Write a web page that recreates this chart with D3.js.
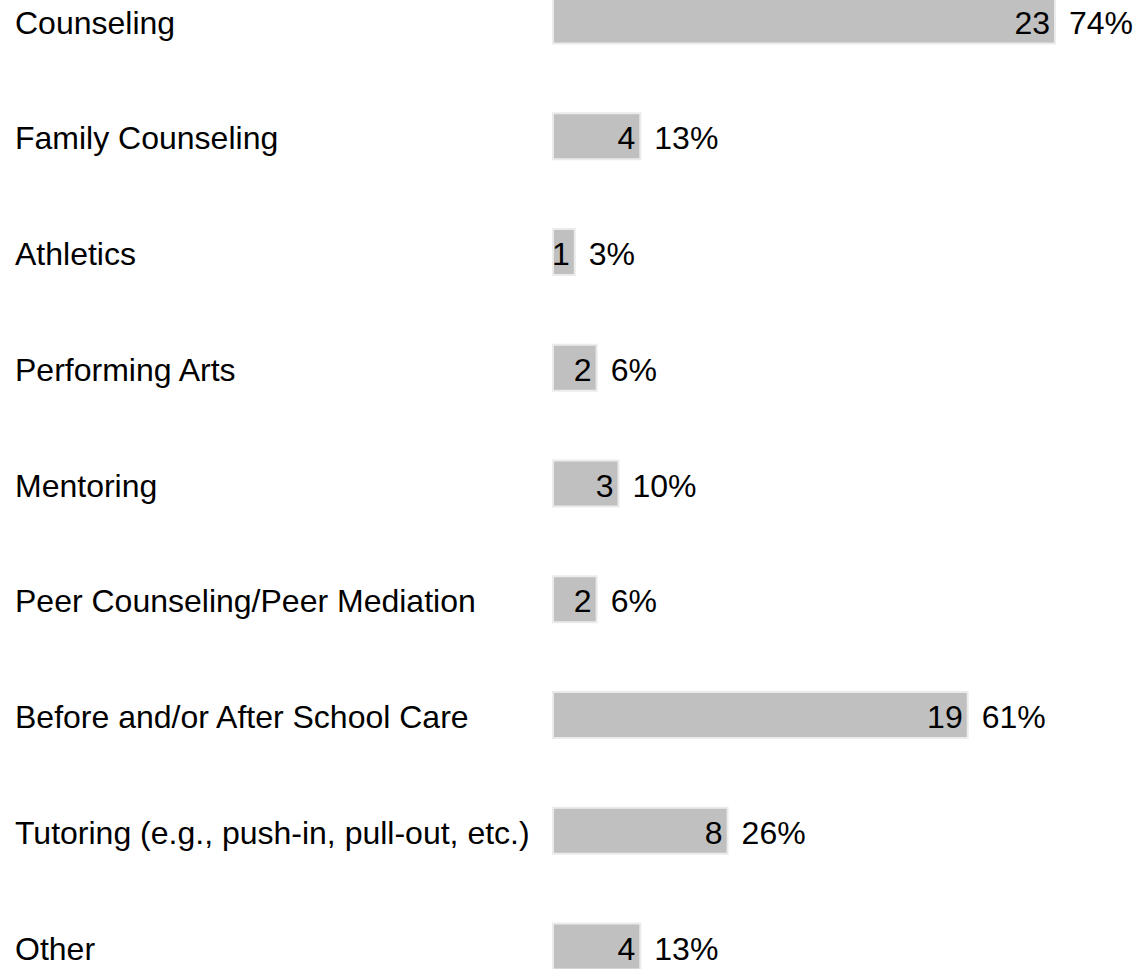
<!DOCTYPE html>
<html lang="en">
<head>
    <meta charset="UTF-8">
    <script src="https://d3js.org/d3.v7.min.js"></script>
    <title>Programs</title>
    <style>
        body { margin: 0; background: white; }
        text { font-family: "Liberation Sans", Arial, sans-serif; font-size: 32px; fill: #000; }
    </style>
</head>
<body>
    <div class="chart"></div>
    <script>
        const categories = [
            "Counseling",
            "Family Counseling",
            "Athletics",
            "Performing Arts",
            "Mentoring",
            "Peer Counseling/Peer Mediation",
            "Before and/or After School Care",
            "Tutoring (e.g., push-in, pull-out, etc.)",
            "Other"
        ];
        const counts = [23, 4, 1, 2, 3, 2, 19, 8, 4];
        const percents = ["74%", "13%", "3%", "6%", "10%", "6%", "61%", "26%", "13%"];

        const width = 1136, height = 969;
        const barH = 46;

        const svg = d3.select(".chart").append("svg")
            .attr("width", width)
            .attr("height", height);

        const x = d3.scaleLinear().domain([0, 23]).range([553, 1055]);
        const y = d3.scalePoint().domain(categories).range([20.5, 946.5]);

        const data = categories.map((c, i) => ({ cat: c, n: counts[i], pct: percents[i] }));

        const row = svg.selectAll("g.row")
            .data(data)
            .enter()
            .append("g")
            .attr("class", "row")
            .attr("transform", d => `translate(0,${y(d.cat)})`);

        // category label
        row.append("text")
            .attr("x", 15)
            .attr("y", 13)
            .text(d => d.cat);

        row.append("rect")
            .attr("x", x(0))
            .attr("y", -barH / 2)
            .attr("width", d => x(d.n) - x(0))
            .attr("height", barH)
            .attr("fill", "#c0c0c0")
            .attr("stroke", "#ebebeb")
            .attr("stroke-width", 2);

        // count inside the bar
        row.append("text")
            .attr("x", d => x(d.n) - 5)
            .attr("y", 13)
            .attr("text-anchor", "end")
            .text(d => d.n);

        // percent after the bar
        row.append("text")
            .attr("x", d => x(d.n) + 14)
            .attr("y", 13)
            .text(d => d.pct);
    </script>
</body>
</html>
